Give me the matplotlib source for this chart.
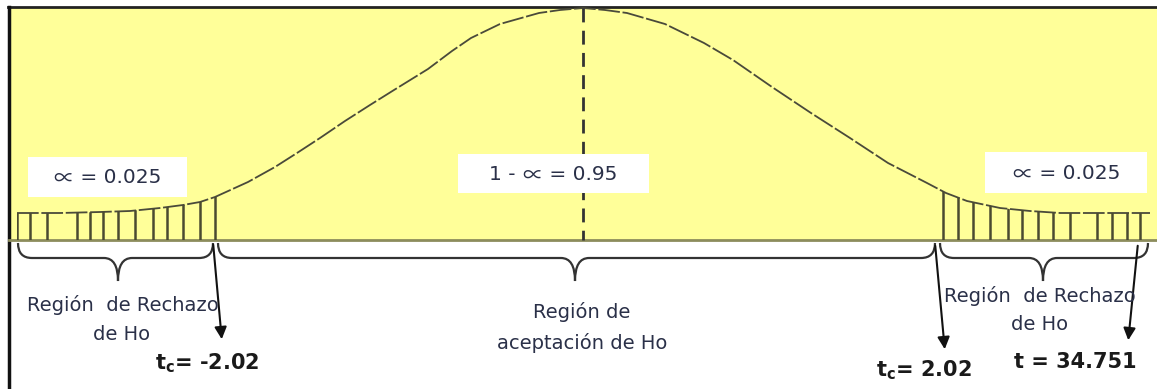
import numpy as np
import matplotlib
matplotlib.use("Agg")
import matplotlib.pyplot as plt
from matplotlib.patches import Rectangle, PathPatch, Polygon
from matplotlib.path import Path

# curve (x, y in picture pixels, y grows downwards)
curve_x = [17, 60, 100, 130, 160, 183, 200, 215, 248, 275, 297, 320, 345, 370, 394, 428,
           452, 471, 500, 539, 560, 583, 605, 627, 665, 704, 733, 772, 811, 850, 888, 927,
           946, 967, 1000, 1030, 1060, 1150]
curve_y = [213, 213, 212, 211, 208, 205, 202, 197, 182, 167, 153, 138, 121, 105, 90, 69,
           51, 38, 24, 13, 10, 8, 10, 13, 24, 43, 60, 87, 113, 138, 163, 183,
           193, 201, 208, 211, 213, 213]

# hatch lines of the rejection tails
hatch_left = [17, 30, 47, 77, 90, 103, 118, 135, 153, 167, 183, 200, 215]
hatch_right = [943, 958, 973, 990, 1008, 1022, 1038, 1053, 1070, 1097, 1112, 1127, 1140, 1152]

alpha_left = ["", "∝", " = 0.025"]
alpha_mid = ["1 - ", "∝", " = 0.95"]
alpha_right = ["", "∝", " = 0.025"]
t_crit = [-2.02, 2.02]
t_calc = 34.751

W, H = 1157, 389
base = 240
yellow = "#ffff99"
ink = "#2a3048"

fig = plt.figure(figsize=(W / 100, H / 100), dpi=100)
ax = fig.add_axes([0, 0, 1, 1])
ax.set_xlim(0, W)
ax.set_ylim(H, 0)
ax.axis("off")
renderer = fig.canvas.get_renderer()

# yellow panel and frame
ax.add_patch(Rectangle((9, 7), W - 9, base - 7, facecolor=yellow, edgecolor="none", zorder=0))
ax.plot([8, W], [7, 7], color="#222222", lw=2)
ax.plot([8.5, 8.5], [7, H], color="#111111", lw=2.5)
ax.plot([9, W], [base, base], color="#8c8c5c", lw=2)

# curve and hatching clipped underneath it
ax.plot(curve_x, curve_y, color="#4a4a3a", lw=1.3, ls=(0, (12, 1.5)), zorder=2)
under = Polygon(list(zip(curve_x, curve_y)) + [(curve_x[-1], base), (curve_x[0], base)],
                closed=True, facecolor="none", edgecolor="none", transform=ax.transData)
ax.add_patch(under)
for xs in (hatch_left, hatch_right):
    vl = ax.vlines(xs, base, 0, color="#4a4a30", lw=1.8, zorder=2)
    vl.set_clip_path(under)

# dashed centre line
ax.plot([583, 583], [8, base], color="#333333", lw=2, ls=(0, (5, 3)), zorder=2)

# white label boxes; the alpha sign is drawn bigger, in another font
def box(x0, y0, x1, y1, parts):
    ax.add_patch(Rectangle((x0, y0), x1 - x0, y1 - y0, facecolor="white", edgecolor="none",
                           zorder=3))
    yb = (y0 + y1) / 2 + 6
    arts = []
    for i, txt in enumerate(parts):
        if not txt:
            continue
        if i == 1:
            t = ax.text(0, yb + 2, txt, va="baseline", ha="left", fontsize=15, color=ink,
                        family="Noto Sans CJK SC", zorder=4)
        else:
            t = ax.text(0, yb, txt, va="baseline", ha="left", fontsize=14.5, color=ink,
                        family="DejaVu Sans", zorder=4)
        arts.append(t)
    widths = [a.get_window_extent(renderer).width for a in arts]
    x = (x0 + x1) / 2 - sum(widths) / 2
    for a, w in zip(arts, widths):
        a.set_x(x)
        x += w

box(28, 157, 187, 197, alpha_left)
box(458, 154, 649, 193, alpha_mid)
box(985, 152, 1147, 193, alpha_right)

# curly braces under the axis
def brace(x0, x1, xm, y0=243, yb=258, yt=281, r=14):
    verts = [(x0, y0), (x0, yb), (x0 + r, yb),
             (xm - r, yb),
             (xm, yb), (xm, yt),
             (xm, yb), (xm + r, yb),
             (x1 - r, yb),
             (x1, yb), (x1, y0)]
    codes = [Path.MOVETO, Path.CURVE3, Path.CURVE3,
             Path.LINETO,
             Path.CURVE3, Path.CURVE3,
             Path.CURVE3, Path.CURVE3,
             Path.LINETO,
             Path.CURVE3, Path.CURVE3]
    ax.add_patch(PathPatch(Path(verts, codes), facecolor="none", edgecolor="#333333", lw=1.6))

brace(18, 213, 118)
brace(218, 935, 575)
brace(940, 1148, 1043)

# arrows to the critical / calculated values
arrow = dict(arrowstyle="-|>", color="#111111", lw=1.5, mutation_scale=18)
ax.annotate("", xy=(222, 342), xytext=(213, 242), arrowprops=arrow)
ax.annotate("", xy=(945, 352), xytext=(935, 243), arrowprops=arrow)
ax.annotate("", xy=(1128, 343), xytext=(1138, 243), arrowprops=arrow)

# region labels
lab = dict(ha="center", va="center", fontsize=14, color=ink, family="DejaVu Sans")
ax.text(123, 305, "Región  de Rechazo", **lab)
ax.text(122, 334, "de Ho", **lab)
ax.text(582, 312, "Región de", **lab)
ax.text(582, 343, "aceptación de Ho", **lab)
ax.text(1040, 296, "Región  de Rechazo", **lab)
ax.text(1040, 324, "de Ho", **lab)

# value labels
val = dict(ha="center", va="center", fontsize=15, color="#1a1a1a", fontweight="bold",
           family="DejaVu Sans")
ax.text(207, 363, r"$\mathbf{t_c}$= %.2f" % t_crit[0], **val)
ax.text(924, 370, r"$\mathbf{t_c}$= %.2f" % t_crit[1], **val)
ax.text(1075, 362, "t = %.3f" % t_calc, **val)

fig.savefig("out.png", dpi=100)
